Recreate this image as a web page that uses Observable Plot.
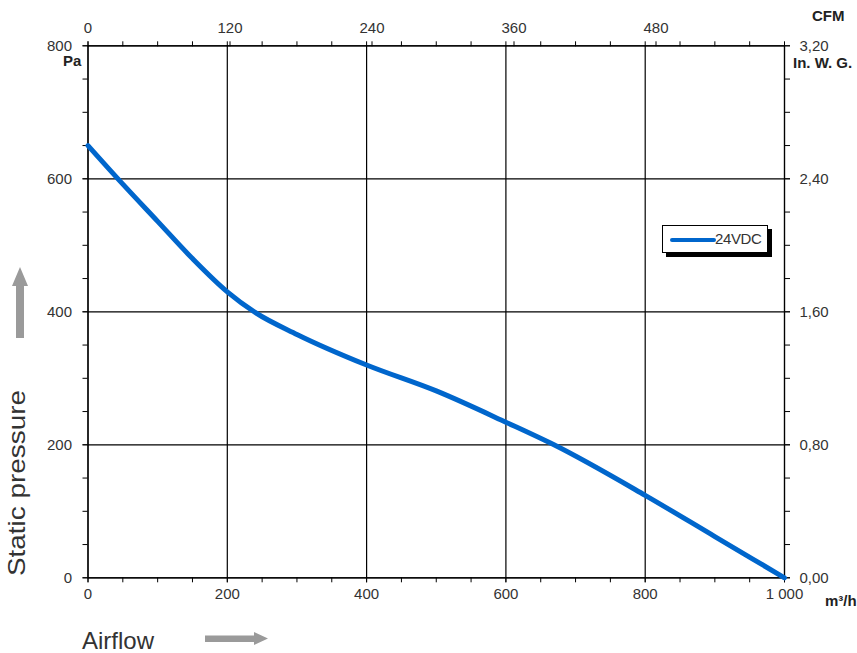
<!DOCTYPE html>
<html>
<head>
<meta charset="utf-8">
<script src="https://cdn.jsdelivr.net/npm/d3@7"></script>
<script src="https://cdn.jsdelivr.net/npm/@observablehq/plot@0.6"></script>
<style>
  html, body { margin: 0; padding: 0; background: #fff; }
  #wrap { position: relative; width: 857px; height: 653px; font-family: "Liberation Sans", Arial, sans-serif; }
  #legend { position: absolute; left: 662px; top: 225px; width: 104px; height: 26px; border: 1px solid #000; background: #fff; box-shadow: 4px 4px 0 #000; }
  #legend .sw { position: absolute; left: 7px; top: 12px; width: 46px; height: 4px; background: #0066cc; border-radius: 2px; }
  #legend .lt { position: absolute; left: 52px; top: 4px; font-size: 15px; letter-spacing: -0.4px; color: #333; }
</style>
</head>
<body>
<div id="wrap"></div>
<script>
// ---- data ----
const flow = [0, 50, 100, 150, 200, 240, 300, 400, 500, 600, 669, 800, 900, 1000];       // m³/h
const pressure = [650, 592, 536, 480, 430, 399, 366, 320, 281, 234, 200, 124, 62, 0];     // Pa
const flowTicks = [0, 200, 400, 600, 800, 1000];
const flowTickLabels = ["0", "200", "400", "600", "800", "1 000"];
const pressureTicks = [0, 200, 400, 600, 800];
const cfmTicks = [0, 120, 240, 360, 480];
const inwgLabels = ["0,00", "0,80", "1,60", "2,40", "3,20"];
const seriesName = "24VDC";
const CFM = 1.69901; // m³/h per CFM

const data = flow.map((f, i) => ({flow: f, pressure: pressure[i]}));
const minorFlow = d3.range(0, 1001, 50);
const minorPressure = d3.range(0, 801, 50);

const chart = Plot.plot({
  width: 857,
  height: 653,
  marginLeft: 87.5,
  marginRight: 73,
  marginTop: 45.3,
  marginBottom: 75.7,
  style: {fontFamily: "Liberation Sans, Arial, sans-serif", fontSize: "15px", color: "#333", background: "#fff"},
  x: {domain: [0, 1000], label: null},
  y: {domain: [0, 800], label: null},
  marks: [
    Plot.gridX(flowTicks, {stroke: "#000", strokeOpacity: 1, strokeWidth: 1.2}),
    Plot.gridY(pressureTicks, {stroke: "#000", strokeOpacity: 1, strokeWidth: 1.2}),
    // minor ticks
    Plot.axisX({anchor: "bottom", ticks: minorFlow, tickSize: 5, text: null, label: null, stroke: "#000"}),
    Plot.axisX({anchor: "top", ticks: minorFlow, tickSize: 5, text: null, label: null, stroke: "#000"}),
    Plot.axisY({anchor: "left", ticks: minorPressure, tickSize: 5, text: null, label: null, stroke: "#000"}),
    Plot.axisY({anchor: "right", ticks: minorPressure, tickSize: 5, text: null, label: null, stroke: "#000"}),
    // labelled axes
    Plot.axisX({anchor: "bottom", ticks: flowTicks, tickSize: 5, tickPadding: 6, label: null,
      tickFormat: (d, i) => flowTickLabels[i], stroke: "#000", fill: "#333", fontSize: 15}),
    Plot.axisX({anchor: "top", ticks: cfmTicks.map(c => c * CFM), tickSize: 5, tickPadding: 8, label: null,
      tickFormat: (d, i) => String(cfmTicks[i]), stroke: "#000", fill: "#333", fontSize: 15}),
    Plot.axisY({anchor: "left", ticks: pressureTicks, tickSize: 5, tickPadding: 11, label: null,
      tickFormat: (d, i) => String(pressureTicks[i]), stroke: "#000", fill: "#333", fontSize: 15}),
    Plot.axisY({anchor: "right", ticks: pressureTicks, tickSize: 5, tickPadding: 10, label: null,
      tickFormat: (d, i) => inwgLabels[i], stroke: "#000", fill: "#333", fontSize: 15}),
    Plot.frame({stroke: "#000", strokeWidth: 1.2}),
    Plot.line(data, {x: "flow", y: "pressure", stroke: "#0066cc", strokeWidth: 5, curve: "monotone-x"})
  ]
});

const wrap = document.getElementById("wrap");
wrap.appendChild(chart);

// legend
const leg = document.createElement("div");
leg.id = "legend";
leg.innerHTML = '<div class="sw"></div><div class="lt"></div>';
leg.querySelector(".lt").textContent = seriesName;
wrap.appendChild(leg);

// units, titles and decorative arrows
const ns = "http://www.w3.org/2000/svg";
const deco = document.createElementNS(ns, "svg");
deco.setAttribute("width", 857);
deco.setAttribute("height", 653);
deco.style.position = "absolute";
deco.style.left = "0";
deco.style.top = "0";
deco.style.pointerEvents = "none";
deco.style.fontFamily = "Liberation Sans, Arial, sans-serif";
function txt(s, x, y, attrs) {
  const t = document.createElementNS(ns, "text");
  t.textContent = s;
  t.setAttribute("x", x);
  t.setAttribute("y", y);
  for (const k in attrs) t.setAttribute(k, attrs[k]);
  deco.appendChild(t);
  return t;
}
const unitStyle = {"font-weight": "bold", "font-size": 15, fill: "#222"};
txt("Pa", 63, 66, unitStyle);
txt("CFM", 812, 21, unitStyle);
txt("In. W. G.", 793, 68, unitStyle);
txt("m³/h", 825, 606, unitStyle);
txt("Airflow", 82, 649, {"font-size": 24, fill: "#333"});
txt("Static pressure", 0, 0, {"font-size": 24, fill: "#333", "text-anchor": "middle",
  transform: "translate(25,483) rotate(-90)", textLength: 186, lengthAdjust: "spacingAndGlyphs"});
const arrows = document.createElementNS(ns, "g");
arrows.innerHTML =
  '<polygon points="20,267 28,286 24,286 24,338 16,338 16,286 12,286" fill="#9a9a9a"/>' +
  '<polygon points="205,635.5 254,635.5 254,632 268,638.5 254,645 254,642 205,642" fill="#9a9a9a"/>';
deco.appendChild(arrows);
wrap.appendChild(deco);
</script>
</body>
</html>
